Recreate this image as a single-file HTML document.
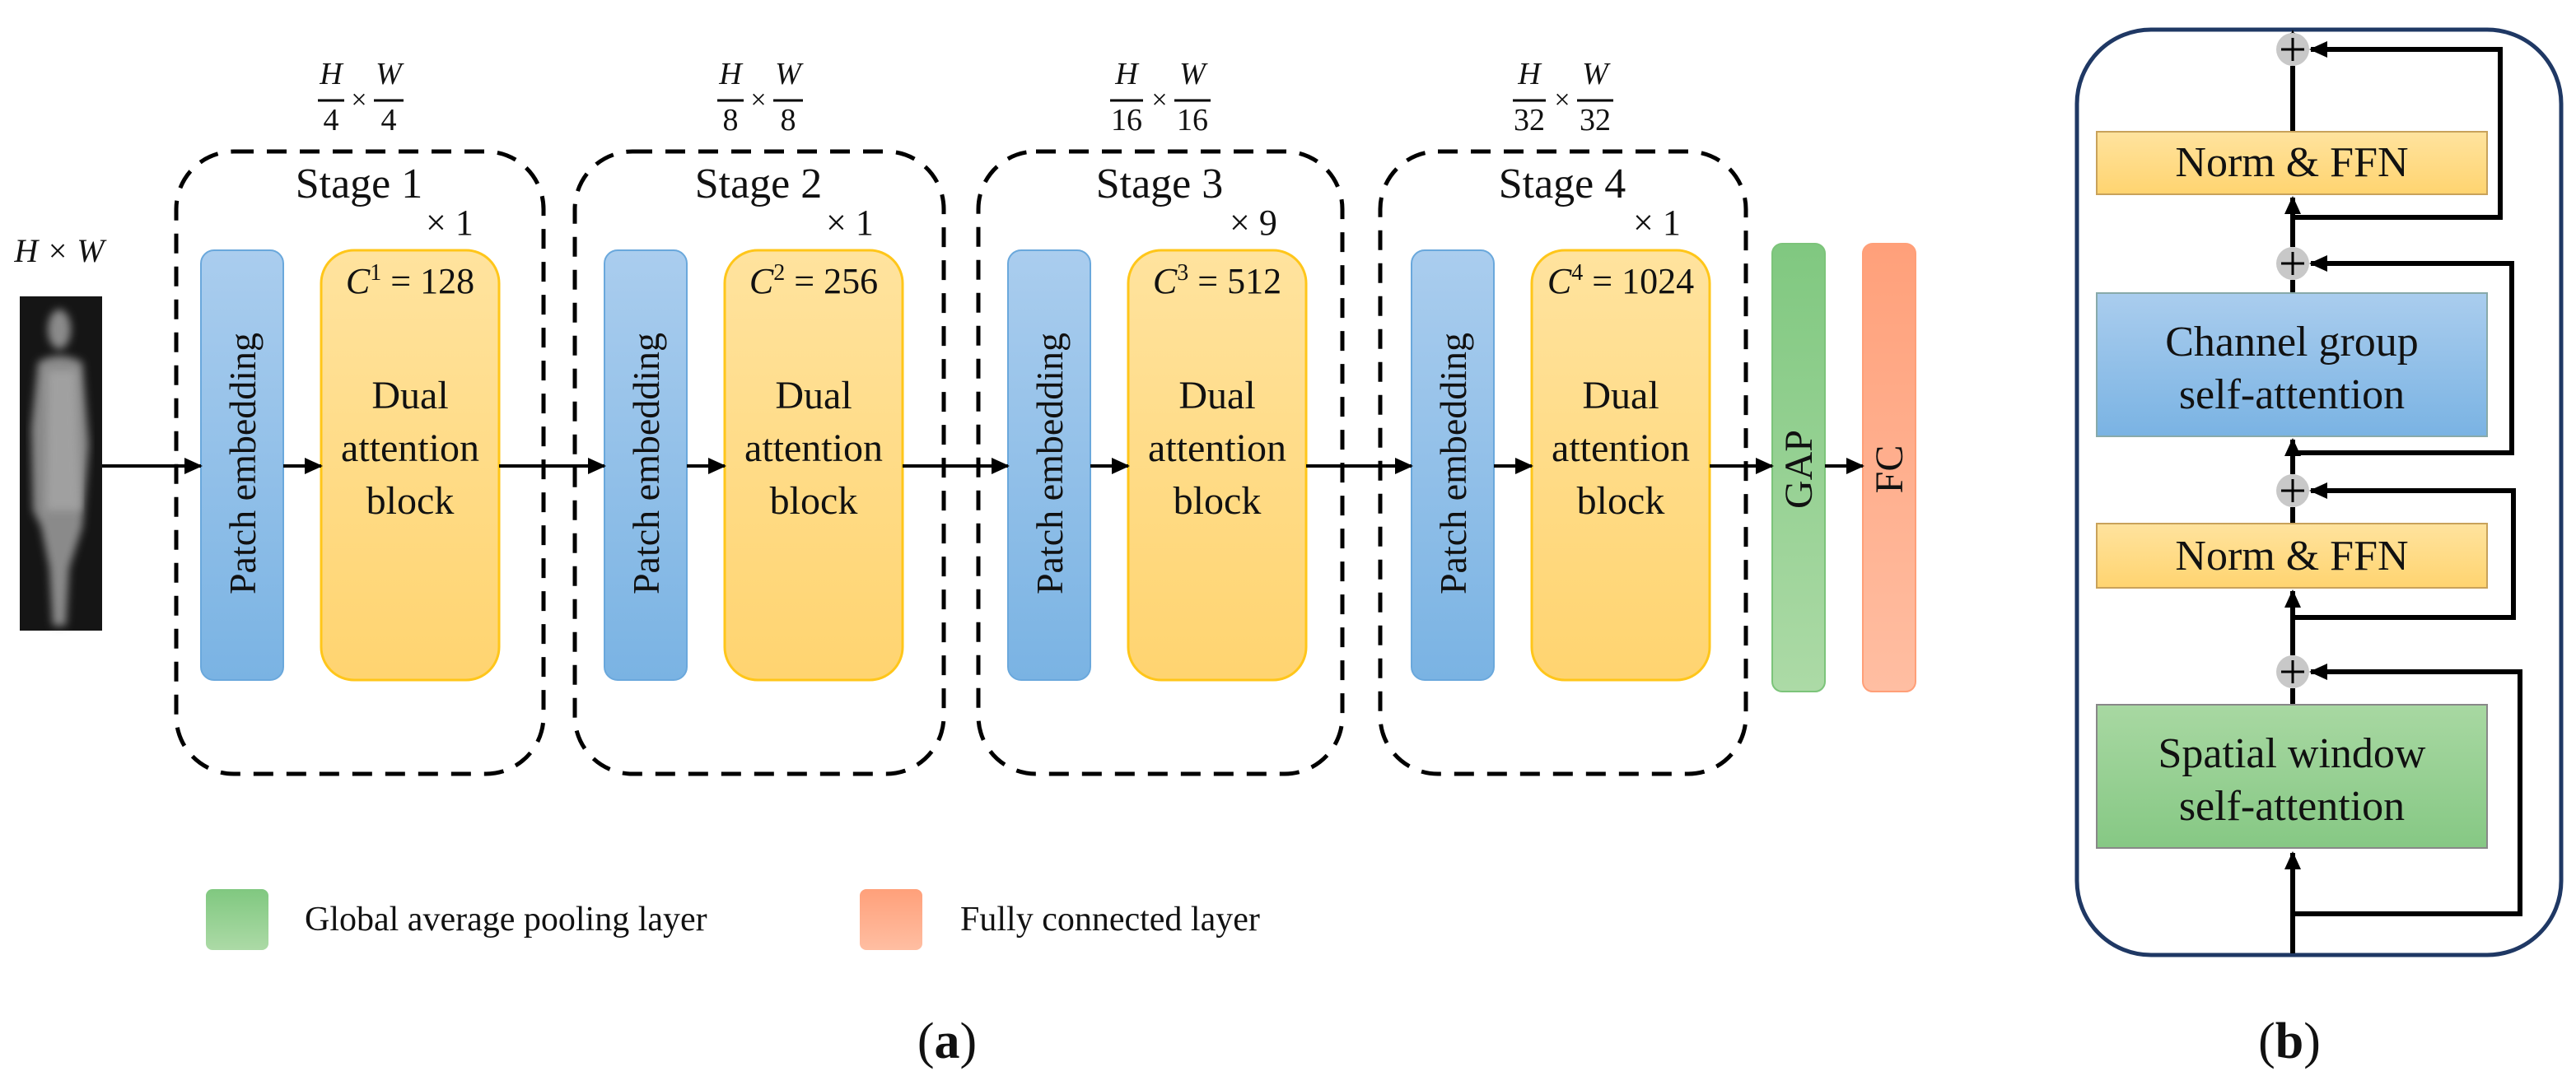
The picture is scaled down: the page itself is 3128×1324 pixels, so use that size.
<!DOCTYPE html>
<html><head><meta charset="utf-8"><style>
html,body{margin:0;padding:0;background:#fff;}
svg{display:block;}
.it{font-style:italic;}
</style></head><body>
<svg width="3128" height="1324" viewBox="0 0 3128 1324" xmlns="http://www.w3.org/2000/svg" font-family="Liberation Serif, DejaVu Serif, serif" fill="#111">
<defs>
<linearGradient id="gb" x1="0" y1="0" x2="0" y2="1"><stop offset="0" stop-color="#aacdee"/><stop offset="1" stop-color="#7ab3e3"/></linearGradient>
<linearGradient id="gy" x1="0" y1="0" x2="0" y2="1"><stop offset="0" stop-color="#ffe39e"/><stop offset="1" stop-color="#ffd470"/></linearGradient>
<linearGradient id="gg" x1="0" y1="0" x2="0" y2="1"><stop offset="0" stop-color="#80c880"/><stop offset="1" stop-color="#acdaa6"/></linearGradient>
<linearGradient id="gg2" x1="0" y1="0" x2="0" y2="1"><stop offset="0" stop-color="#a8d8a2"/><stop offset="1" stop-color="#86c884"/></linearGradient>
<linearGradient id="go" x1="0" y1="0" x2="0" y2="1"><stop offset="0" stop-color="#ffa07a"/><stop offset="1" stop-color="#ffbea2"/></linearGradient>
<filter id="bl"><feGaussianBlur stdDeviation="5"/></filter>
<marker id="ah2" markerWidth="22" markerHeight="20" refX="20" refY="10" orient="auto" markerUnits="userSpaceOnUse"><path d="M0,0 L22,10 L0,20 z" fill="#000"/></marker>
</defs>

<!-- Input -->
<text x="72" y="318" font-size="40" class="it" text-anchor="middle">H × W</text>
<rect x="24" y="360" width="100" height="406" fill="#151515"/>
<g filter="url(#bl)" fill="#8a8a8a">
<ellipse cx="72" cy="400" rx="14" ry="24"/>
<path d="M46,440 Q72,425 100,440 L108,540 L100,640 L84,690 L80,760 L64,760 L60,690 L50,640 L40,620 L38,520 Z"/>
</g>
<g filter="url(#bl)" fill="#a0a0a0"><path d="M58,450 L92,450 L98,620 L56,620 Z"/></g>

<!-- Stages -->
<g fill="none" stroke="#000" stroke-width="5" stroke-dasharray="24,16">
<rect x="214" y="184" width="446" height="756" rx="70"/>
<rect x="698" y="184" width="448" height="756" rx="70"/>
<rect x="1188" y="184" width="442" height="756" rx="70"/>
<rect x="1676" y="184" width="444" height="756" rx="70"/>
</g>

<g font-size="52" text-anchor="middle">
<text x="436" y="240">Stage 1</text>
<text x="921" y="240">Stage 2</text>
<text x="1408" y="240">Stage 3</text>
<text x="1897" y="240">Stage 4</text>
</g>

<!-- fractions -->
<g font-size="38" text-anchor="middle">
<g transform="translate(436,0)"><text x="-34" y="102" class="it">H</text><text x="-34" y="158">4</text><line x1="-50" y1="122" x2="-18" y2="122" stroke="#000" stroke-width="3"/><text x="0" y="132" font-size="34">×</text><text x="36" y="102" class="it">W</text><text x="36" y="158">4</text><line x1="18" y1="122" x2="54" y2="122" stroke="#000" stroke-width="3"/></g>
<g transform="translate(921,0)"><text x="-34" y="102" class="it">H</text><text x="-34" y="158">8</text><line x1="-50" y1="122" x2="-18" y2="122" stroke="#000" stroke-width="3"/><text x="0" y="132" font-size="34">×</text><text x="36" y="102" class="it">W</text><text x="36" y="158">8</text><line x1="18" y1="122" x2="54" y2="122" stroke="#000" stroke-width="3"/></g>
<g transform="translate(1408,0)"><text x="-40" y="102" class="it">H</text><text x="-40" y="158">16</text><line x1="-60" y1="122" x2="-20" y2="122" stroke="#000" stroke-width="3"/><text x="0" y="132" font-size="34">×</text><text x="40" y="102" class="it">W</text><text x="40" y="158">16</text><line x1="18" y1="122" x2="62" y2="122" stroke="#000" stroke-width="3"/></g>
<g transform="translate(1897,0)"><text x="-40" y="102" class="it">H</text><text x="-40" y="158">32</text><line x1="-60" y1="122" x2="-20" y2="122" stroke="#000" stroke-width="3"/><text x="0" y="132" font-size="34">×</text><text x="40" y="102" class="it">W</text><text x="40" y="158">32</text><line x1="18" y1="122" x2="62" y2="122" stroke="#000" stroke-width="3"/></g>
</g>

<!-- x N -->
<g font-size="44">
<text x="517" y="285">× 1</text>
<text x="1003" y="285">× 1</text>
<text x="1493" y="285">× 9</text>
<text x="1983" y="285">× 1</text>
</g>

<!-- patch embedding -->
<g fill="url(#gb)" stroke="#6aa8dc" stroke-width="2">
<rect x="244" y="304" width="100" height="522" rx="16"/>
<rect x="734" y="304" width="100" height="522" rx="16"/>
<rect x="1224" y="304" width="100" height="522" rx="16"/>
<rect x="1714" y="304" width="100" height="522" rx="16"/>
</g>
<g font-size="46" text-anchor="middle">
<text transform="translate(310,563) rotate(-90)">Patch embedding</text>
<text transform="translate(800,563) rotate(-90)">Patch embedding</text>
<text transform="translate(1290,563) rotate(-90)">Patch embedding</text>
<text transform="translate(1780,563) rotate(-90)">Patch embedding</text>
</g>

<!-- dual attention -->
<g fill="url(#gy)" stroke="#ffc61a" stroke-width="3">
<rect x="390" y="304" width="216" height="522" rx="40"/>
<rect x="880" y="304" width="216" height="522" rx="40"/>
<rect x="1370" y="304" width="216" height="522" rx="40"/>
<rect x="1860" y="304" width="216" height="522" rx="40"/>
</g>
<g font-size="44" text-anchor="middle">
<text x="498" y="356"><tspan class="it">C</tspan><tspan font-size="28" dy="-16">1</tspan><tspan dy="16"> = 128</tspan></text>
<text x="988" y="356"><tspan class="it">C</tspan><tspan font-size="28" dy="-16">2</tspan><tspan dy="16"> = 256</tspan></text>
<text x="1478" y="356"><tspan class="it">C</tspan><tspan font-size="28" dy="-16">3</tspan><tspan dy="16"> = 512</tspan></text>
<text x="1968" y="356"><tspan class="it">C</tspan><tspan font-size="28" dy="-16">4</tspan><tspan dy="16"> = 1024</tspan></text>
</g>
<g font-size="48" text-anchor="middle">
<text x="498" y="496">Dual</text><text x="498" y="560">attention</text><text x="498" y="624">block</text>
<text x="988" y="496">Dual</text><text x="988" y="560">attention</text><text x="988" y="624">block</text>
<text x="1478" y="496">Dual</text><text x="1478" y="560">attention</text><text x="1478" y="624">block</text>
<text x="1968" y="496">Dual</text><text x="1968" y="560">attention</text><text x="1968" y="624">block</text>
</g>

<!-- GAP / FC -->
<rect x="2152" y="296" width="64" height="544" rx="12" fill="url(#gg)" stroke="#7cc47a" stroke-width="2"/>
<rect x="2262" y="296" width="64" height="544" rx="12" fill="url(#go)" stroke="#ff9f78" stroke-width="2"/>
<text transform="translate(2200,570) rotate(-90)" font-size="48" text-anchor="middle">GAP</text>
<text transform="translate(2310,570) rotate(-90)" font-size="48" text-anchor="middle">FC</text>

<!-- arrows main -->
<g stroke="#000" stroke-width="4" marker-end="url(#ah2)">
<line x1="124" y1="566" x2="244" y2="566"/>
<line x1="344" y1="566" x2="390" y2="566"/>
<line x1="606" y1="566" x2="734" y2="566"/>
<line x1="834" y1="566" x2="880" y2="566"/>
<line x1="1096" y1="566" x2="1224" y2="566"/>
<line x1="1324" y1="566" x2="1370" y2="566"/>
<line x1="1586" y1="566" x2="1714" y2="566"/>
<line x1="1814" y1="566" x2="1860" y2="566"/>
<line x1="2076" y1="566" x2="2152" y2="566"/>
<line x1="2216" y1="566" x2="2262" y2="566"/>
</g>

<!-- legend -->
<rect x="250" y="1080" width="76" height="74" rx="8" fill="url(#gg)"/>
<text x="370" y="1130" font-size="42">Global average pooling layer</text>
<rect x="1044" y="1080" width="76" height="74" rx="8" fill="url(#go)"/>
<text x="1166" y="1130" font-size="42">Fully connected layer</text>

<text x="1150" y="1285" font-size="62" text-anchor="middle">(<tspan font-weight="bold">a</tspan>)</text>
<text x="2780" y="1285" font-size="62" text-anchor="middle">(<tspan font-weight="bold">b</tspan>)</text>

<!-- panel b -->
<rect x="2522" y="36" width="588" height="1124" rx="90" fill="none" stroke="#1f3864" stroke-width="5"/>
<g fill="none" stroke="#000" stroke-width="6">
<line x1="2784" y1="1158" x2="2784" y2="1036" marker-end="url(#ah2)"/>
<line x1="2784" y1="856" x2="2784" y2="836"/>
<line x1="2784" y1="796" x2="2784" y2="718" marker-end="url(#ah2)"/>
<line x1="2784" y1="636" x2="2784" y2="616"/>
<line x1="2784" y1="576" x2="2784" y2="534" marker-end="url(#ah2)"/>
<line x1="2784" y1="356" x2="2784" y2="340"/>
<line x1="2784" y1="300" x2="2784" y2="240" marker-end="url(#ah2)"/>
<line x1="2784" y1="160" x2="2784" y2="80"/>
<path d="M2784,1110 H3060 V816 H2806" marker-end="url(#ah2)"/>
<path d="M2784,750 H3052 V596 H2806" marker-end="url(#ah2)"/>
<path d="M2784,550 H3050 V320 H2806" marker-end="url(#ah2)"/>
<path d="M2784,264 H3036 V60 H2806" marker-end="url(#ah2)"/>
</g>
<path d="M2774,60 L2784,36 L2794,60 Z" fill="#000"/>
<line x1="2784" y1="60" x2="2784" y2="40" stroke="#000" stroke-width="6"/>

<g fill="#c8c8c8">
<circle cx="2784" cy="60" r="20"/><circle cx="2784" cy="320" r="20"/><circle cx="2784" cy="596" r="20"/><circle cx="2784" cy="816" r="20"/>
</g>
<g stroke="#000" stroke-width="3">
<line x1="2770" y1="60" x2="2798" y2="60"/><line x1="2784" y1="46" x2="2784" y2="74"/>
<line x1="2770" y1="320" x2="2798" y2="320"/><line x1="2784" y1="306" x2="2784" y2="334"/>
<line x1="2770" y1="596" x2="2798" y2="596"/><line x1="2784" y1="582" x2="2784" y2="610"/>
<line x1="2770" y1="816" x2="2798" y2="816"/><line x1="2784" y1="802" x2="2784" y2="830"/>
</g>

<rect x="2546" y="160" width="474" height="76" fill="url(#gy)" stroke="#c9a25a" stroke-width="2"/>
<rect x="2546" y="356" width="474" height="174" fill="url(#gb)" stroke="#8aa" stroke-width="2"/>
<rect x="2546" y="636" width="474" height="78" fill="url(#gy)" stroke="#c9a25a" stroke-width="2"/>
<rect x="2546" y="856" width="474" height="174" fill="url(#gg2)" stroke="#888" stroke-width="2"/>
<g font-size="52" text-anchor="middle">
<text x="2783" y="214">Norm &amp; FFN</text>
<text x="2783" y="432">Channel group</text>
<text x="2783" y="496">self-attention</text>
<text x="2783" y="692">Norm &amp; FFN</text>
<text x="2783" y="932">Spatial window</text>
<text x="2783" y="996">self-attention</text>
</g>
</svg>
</body></html>
